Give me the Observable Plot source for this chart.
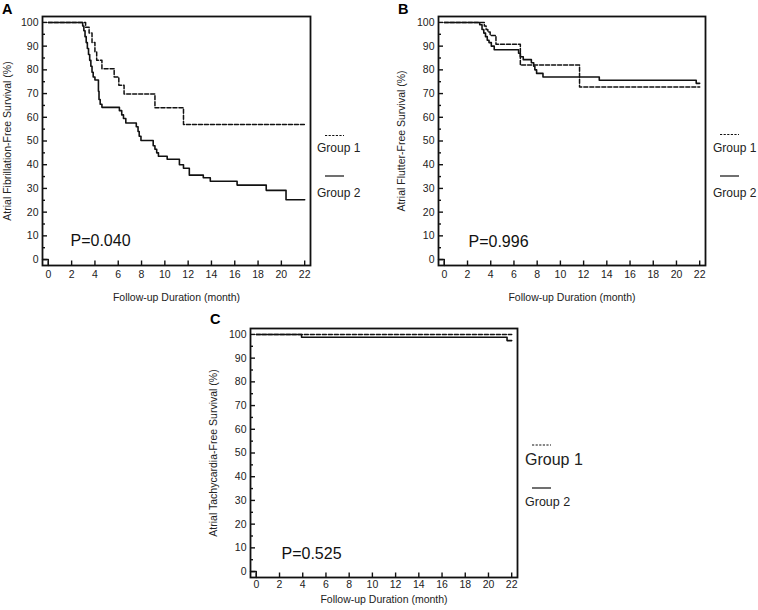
<!DOCTYPE html>
<html><head><meta charset="utf-8">
<script src="https://cdn.jsdelivr.net/npm/d3@7"></script>
<script src="https://cdn.jsdelivr.net/npm/@observablehq/plot@0.6"></script>
<style>
html,body{margin:0;padding:0;background:#fff;}
#wrap{position:relative;width:758px;height:610px;overflow:hidden;font-family:"Liberation Sans",Arial,sans-serif;}
#wrap > svg{position:absolute;}
</style></head><body><div id="wrap"></div>
<script>
// ---- axis ticks ----
const xTicks = [0,2,4,6,8,10,12,14,16,18,20,22];
const yMajorTicks = [0,10,20,30,40,50,60,70,80,90,100];
const yMinorTicks = [5,15,25,35,45,55,65,75,85,95];
const xDomain = [-0.5, 22.5];
const yDomain = [-2.5, 102.5];
const groupNames = ["Group 1", "Group 2"];
const xTitle = "Follow-up Duration (month)";

// ---- Panel A: atrial fibrillation ----
const afG1Month = [0, 3.2, 3.5, 3.75, 4.0, 4.15, 4.6, 5.65, 6.05, 6.5, 9.15, 11.6, 22];
const afG1Surv  = [100, 98, 95.5, 91.5, 87.5, 84, 80.5, 77, 73.5, 69.8, 64, 57, 57];
const afG2Month = [0, 2.95, 3.05, 3.15, 3.25, 3.35, 3.45, 3.55, 3.65, 3.75, 3.85, 4.0, 4.3, 4.35, 4.45, 4.6, 6.1, 6.3, 6.45, 6.65, 7.55, 7.7, 7.8, 7.95, 9.0, 9.15, 9.3, 9.45, 10.2, 11.25, 11.6, 12.1, 13.3, 13.9, 16.2, 18.7, 20.4, 22];
const afG2Surv  = [100, 98.5, 96.5, 94, 91.5, 89, 86.5, 84, 81.5, 79, 77, 75.7, 71, 67.5, 65.5, 64.2, 62.8, 61, 59.5, 57.6, 56, 54, 52, 50.2, 48, 46.5, 45, 43.6, 42.3, 40, 38.5, 35.6, 34.5, 33, 31.4, 29.2, 25.2, 25.2];

// ---- Panel B: atrial flutter ----
const flG1Month = [0, 3.45, 3.6, 3.75, 3.95, 4.45, 6.55, 11.65, 22];
const flG1Surv  = [100, 98.5, 97, 96, 94.5, 90.8, 82, 72.8, 72.8];
const flG2Month = [0, 3.05, 3.25, 3.4, 3.55, 3.7, 3.85, 4.05, 4.3, 6.4, 6.55, 6.8, 7.5, 7.7, 7.8, 7.95, 8.5, 13.35, 21.7, 22];
const flG2Surv  = [100, 99, 97, 95.5, 94, 92.5, 91.5, 90, 88.5, 87, 85.5, 84.3, 83, 81.5, 80, 78.5, 77, 75.6, 74.3, 74.3];

// ---- Panel C: atrial tachycardia ----
const atG1Month = [0, 22];
const atG1Surv  = [100, 100];
const atG2Month = [0, 3.9, 21.6, 22];
const atG2Surv  = [100, 98.8, 97.4, 97.4];

const panelLetters = ["A", "B", "C"];
const yTitles = ["Atrial Fibrillation-Free Survival (%)", "Atrial Flutter-Free Survival (%)", "Atrial Tachycardia-Free Survival (%)"];
const pValues = ["P=0.040", "P=0.996", "P=0.525"];

const FONT = '"Liberation Sans", Arial, sans-serif';
const INK = "#111";

function toRows(month, surv) { return month.map((t, i) => ({t, v: surv[i]})); }

function panel(o) {
  const fw = o.width - o.mL - o.mR, fh = o.height - o.mT - o.mB;
  const bracket = [[xDomain[0], 0], [0, 0], [0, yDomain[0]]];
  const svg = Plot.plot({
    width: o.width, height: o.height,
    marginLeft: o.mL, marginRight: o.mR, marginTop: o.mT, marginBottom: o.mB,
    x: {domain: xDomain, label: null},
    y: {domain: yDomain, label: null},
    style: {fontFamily: FONT, fontSize: "10.5px", color: "#222", background: "transparent", overflow: "visible"},
    marks: [
      Plot.tickY(yMajorTicks, {y: d => d, insetRight: fw - 5, stroke: INK, strokeWidth: 1.4}),
      Plot.tickY(yMinorTicks, {y: d => d, insetRight: fw - 3, stroke: INK, strokeWidth: 1.4}),
      Plot.tickX(xTicks, {x: d => d, insetTop: fh - 4.5, stroke: INK, strokeWidth: 1.4}),
      Plot.axisY({ticks: yMajorTicks, tickSize: 0, tickPadding: 4, tickFormat: d => d, label: null}),
      Plot.axisX({ticks: xTicks, tickSize: 0, tickPadding: o.xPad, tickFormat: d => d, label: null}),
      Plot.line(bracket, {x: d => d[0], y: d => d[1], stroke: INK, strokeWidth: 1.4}),
      Plot.line(toRows(o.g1m, o.g1s), {x: "t", y: "v", curve: "step-after", stroke: INK, strokeWidth: 1.5, strokeDasharray: "4,2"}),
      Plot.line(toRows(o.g2m, o.g2s), {x: "t", y: "v", curve: "step-after", stroke: INK, strokeWidth: 1.6}),
      Plot.frame({stroke: INK, strokeWidth: 1.8}),
      Plot.text([o.yTitle], {text: d => d, frameAnchor: "left", textAnchor: "middle", lineAnchor: "middle", rotate: -90, dx: o.yTitleDx, fill: "#222", fontSize: 10.5}),
      Plot.text([xTitle], {text: d => d, frameAnchor: "bottom", textAnchor: "middle", lineAnchor: "middle", dy: o.xTitleDy, fill: "#222", fontSize: 10.5}),
      Plot.text([o.p], {text: d => d, frameAnchor: "bottom-left", textAnchor: "start", lineAnchor: "middle", dx: o.pDx, dy: o.pDy, fill: "#111", fontSize: 16})
    ]
  });
  svg.style.position = "absolute";
  svg.style.left = o.left + "px";
  svg.style.top = o.top + "px";
  return svg;
}

const wrap = document.getElementById("wrap");
wrap.appendChild(panel({left: 0, top: 0, width: 379, height: 305, mL: 42, mR: 69, mT: 16, mB: 40, xPad: 5,
  g1m: afG1Month, g1s: afG1Surv, g2m: afG2Month, g2s: afG2Surv,
  yTitle: yTitles[0], p: pValues[0], yTitleDx: -35, xTitleDy: 32, pDx: 28, pDy: -25}));
wrap.appendChild(panel({left: 379, top: 0, width: 379, height: 305, mL: 59, mR: 53, mT: 16, mB: 40, xPad: 5,
  g1m: flG1Month, g1s: flG1Surv, g2m: flG2Month, g2s: flG2Surv,
  yTitle: yTitles[1], p: pValues[1], yTitleDx: -36.5, xTitleDy: 32, pDx: 30, pDy: -23.5}));
wrap.appendChild(panel({left: 180, top: 300, width: 420, height: 310, mL: 70, mR: 83, mT: 28, mB: 33, xPad: 3,
  g1m: atG1Month, g1s: atG1Surv, g2m: atG2Month, g2s: atG2Surv,
  yTitle: yTitles[2], p: pValues[2], yTitleDx: -37, xTitleDy: 22, pDx: 31, pDy: -23.5}));

// ---- overlay: panel letters + legends ----
const ov = d3.create("svg").attr("width", 758).attr("height", 610)
  .style("left", "0px").style("top", "0px").style("font-family", FONT);
const letterPos = [[2, 13.5], [398, 13.5], [210, 323.5]];
panelLetters.forEach((L, i) => ov.append("text").attr("x", letterPos[i][0]).attr("y", letterPos[i][1])
  .attr("font-weight", "bold").attr("font-size", 14.5).attr("fill", "#000").text(L));

const legends = [
  {x: 317, lx: 325, l1y: 135.5, t1y: 151.5, l2y: 176, t2y: 197, f1: 12, f2: 12},
  {x: 713, lx: 720, l1y: 134.5, t1y: 151.5, l2y: 176, t2y: 197, f1: 12, f2: 12},
  {x: 525, lx: 532, l1y: 445, t1y: 464.5, l2y: 488, t2y: 505.5, f1: 16, f2: 12.5}
];
legends.forEach(g => {
  ov.append("line").attr("x1", g.lx).attr("x2", g.lx + 19).attr("y1", g.l1y).attr("y2", g.l1y)
    .attr("stroke", INK).attr("stroke-width", 1).attr("stroke-dasharray", "2.2,1.4");
  ov.append("text").attr("x", g.x).attr("y", g.t1y).attr("font-size", g.f1).attr("fill", "#222").text(groupNames[0]);
  ov.append("line").attr("x1", g.lx).attr("x2", g.lx + 19).attr("y1", g.l2y).attr("y2", g.l2y)
    .attr("stroke", INK).attr("stroke-width", 1.2);
  ov.append("text").attr("x", g.x).attr("y", g.t2y).attr("font-size", g.f2).attr("fill", "#222").text(groupNames[1]);
});
wrap.appendChild(ov.node());
</script></body></html>
